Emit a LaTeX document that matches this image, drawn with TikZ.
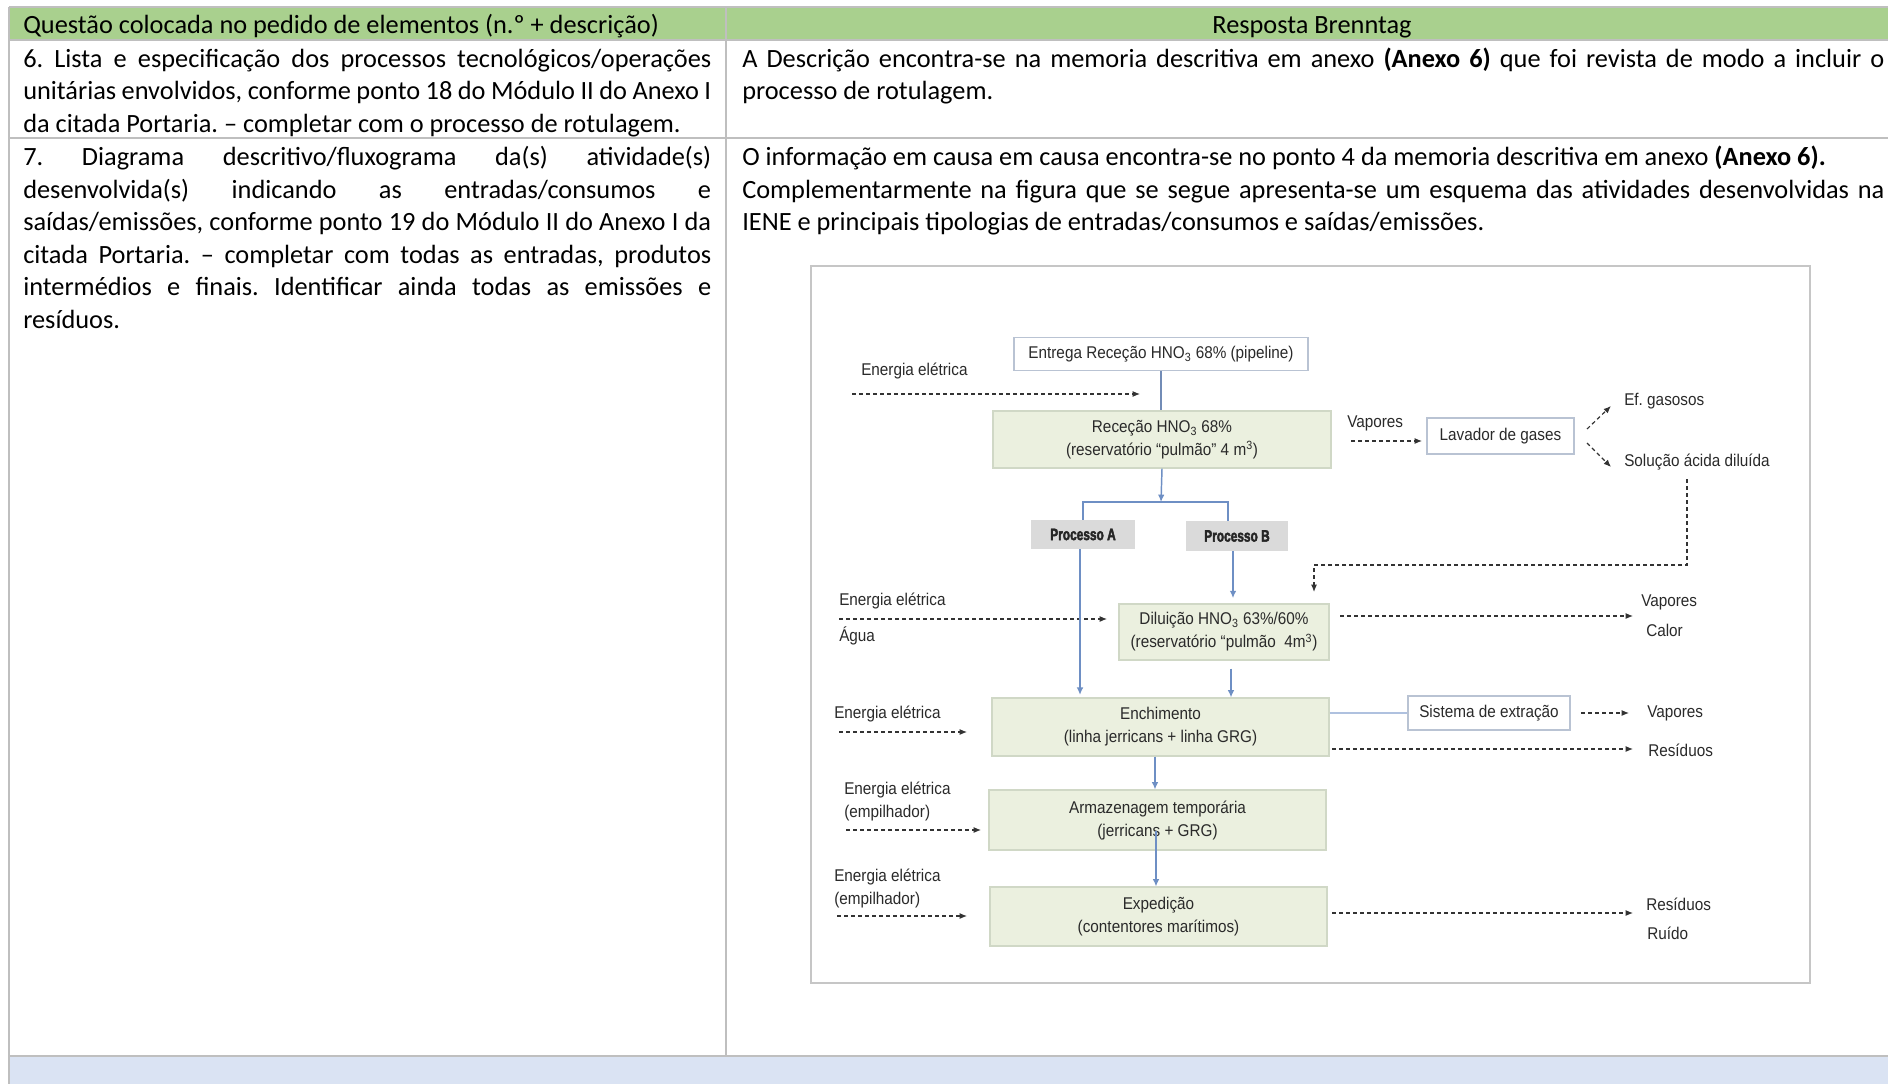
\documentclass[tikz,border=0pt]{standalone}
\usepackage{fontspec}
\setmainfont{Carlito}
\newfontfamily\diagfont[FakeStretch=0.9]{Liberation Sans}
\newfontfamily\procfont[FakeStretch=0.72,FakeBold=2.5]{Liberation Sans}
\usetikzlibrary{arrows.meta}
\definecolor{hdrgreen}{HTML}{A9D08E}
\definecolor{gridgray}{HTML}{BFBFBF}
\definecolor{bandblue}{HTML}{DAE3F3}
\definecolor{boxgreen}{HTML}{EBF0DF}
\definecolor{boxedge}{HTML}{D0D8C6}
\definecolor{wboxedge}{HTML}{B9C3D3}
\definecolor{procgray}{HTML}{DADADA}
\definecolor{flowblue}{HTML}{6E8FC4}
\definecolor{framegray}{HTML}{C6C6C6}
\definecolor{diagtext}{HTML}{2A2A2A}
\newcommand\tabsize{\fontsize{19.75pt}{24.4pt}\selectfont}
\newcommand\jl[1]{\makebox[516pt][s]{#1}}
\newcommand\jr[1]{\makebox[856.5pt][s]{#1}}
\frenchspacing
\tikzset{
  tline/.style={anchor=base west, inner sep=0pt, font=\tabsize},
  lbl/.style={anchor=west, inner sep=0pt, align=left, text=diagtext,
    font=\diagfont\fontsize{12.75pt}{17.25pt}\selectfont},
  gbox/.style={draw=boxedge, fill=boxgreen, line width=0.8pt, align=center, inner sep=0pt,
    text=diagtext, font=\diagfont\fontsize{12.75pt}{17.25pt}\selectfont},
  wbox/.style={draw=wboxedge, fill=white, line width=0.9pt, align=center, inner sep=0pt,
    text=diagtext, font=\diagfont\fontsize{12.75pt}{17.25pt}\selectfont},
  pbox/.style={draw=none, fill=procgray, inner sep=0pt, text=black!85,
    font=\procfont\bfseries\fontsize{12.4pt}{14pt}\selectfont},
  dashar/.style={draw=black!80, line width=0.85pt, dash pattern=on 3pt off 2.25pt,
    -{Latex[length=5.5pt,width=4.5pt]}},
  flowar/.style={draw=flowblue, line width=1.1pt, -{Latex[length=5.5pt,width=5pt]}},
  flowline/.style={draw=flowblue, line width=1.1pt},
}
\begin{document}
\begin{tikzpicture}[x=0.75pt,y=-0.75pt]
\useasboundingbox (0,0) rectangle (1888,1084);
% ---------- table ----------
\fill[white] (0,0) rectangle (1888,1084);
\fill[hdrgreen] (9,7) rectangle (1888,40);
\fill[bandblue] (9,1056) rectangle (1888,1084);
\draw[gridgray, line width=1.6pt] (9,7) -- (1888,7);
\draw[gridgray, line width=2pt] (9,40) -- (1888,40);
\draw[gridgray, line width=2pt] (9,138) -- (1888,138);
\draw[gridgray, line width=2.2pt] (9,1056) -- (1888,1056);
\draw[gridgray, line width=1.3pt] (9,7) -- (9,1084);
\draw[gridgray, line width=1.3pt] (726,7) -- (726,1056);

\node[tline] (h1) at (23,34) {Questão colocada no pedido de elementos (n.º + descrição)};
\node[anchor=base, inner sep=0pt, font=\tabsize] (h2) at (1312,34) {Resposta Brenntag};

\node[tline] (l1a) at (23,67.5) {\jl{6. Lista e especificação dos processos tecnológicos/operações}};
\node[tline] (l1b) at (23,100) {\jl{unitárias envolvidos, conforme ponto 18 do Módulo II do Anexo I}};
\node[tline] (l1c) at (23,132.5) {da citada Portaria. – completar com o processo de rotulagem.};

\node[tline] (r1a) at (742,67.5) {\jr{A Descrição encontra-se na memoria descritiva em anexo \textbf{(Anexo 6)} que foi revista de modo a incluir o}};
\node[tline] (r1b) at (742,100) {processo de rotulagem.};

\node[tline] (l2a) at (23,166) {\jl{7. Diagrama descritivo/fluxograma da(s) atividade(s)}};
\node[tline] (l2b) at (23,198.5) {\jl{desenvolvida(s) indicando as entradas/consumos e}};
\node[tline] (l2c) at (23,231) {\jl{saídas/emissões, conforme ponto 19 do Módulo II do Anexo I da}};
\node[tline] (l2d) at (23,263.5) {\jl{citada Portaria. – completar com todas as entradas, produtos}};
\node[tline] (l2e) at (23,296) {\jl{intermédios e finais. Identificar ainda todas as emissões e}};
\node[tline] (l2f) at (23,328.5) {resíduos.};

\node[tline] (r2a) at (742,166) {O informação em causa em causa encontra-se no ponto 4 da memoria descritiva em anexo \textbf{(Anexo 6).}};
\node[tline] (r2b) at (742,198.5) {\jr{Complementarmente na figura que se segue apresenta-se um esquema das atividades desenvolvidas na}};
\node[tline] (r2c) at (742,231) {IENE e principais tipologias de entradas/consumos e saídas/emissões.};

% ---------- figure ----------
\draw[framegray, line width=1.1pt, fill=white] (811,266) rectangle (1810,983);

\node[wbox, minimum width=220.5pt, minimum height=24.75pt] (entrega) at (1161,354)
  {Entrega Receção HNO\textsubscript{3} 68\% (pipeline)};
\node[gbox, minimum width=253.5pt, minimum height=42.75pt] (recep) at (1162,439.5)
  {Receção HNO\textsubscript{3} 68\%\\(reservatório “pulmão” 4 m\textsuperscript{3})};
\node[wbox, minimum width=110.25pt, minimum height=27pt] (lav) at (1500.5,436) {Lavador de gases};
\node[pbox, minimum width=78pt, minimum height=21.75pt] (procA) at (1083,534.5) {Processo A};
\node[pbox, minimum width=76.5pt, minimum height=22.5pt] (procB) at (1237,536) {Processo B};
\node[gbox, minimum width=157.5pt, minimum height=42pt] (dil) at (1224,632)
  {Diluição HNO\textsubscript{3} 63\%/60\%\\(reservatório “pulmão\ \ 4m\textsuperscript{3})};
\node[gbox, minimum width=252.75pt, minimum height=43.5pt] (ench) at (1160.5,727)
  {Enchimento\\(linha jerricans + linha GRG)};
\node[wbox, minimum width=121.5pt, minimum height=25.5pt] (sis) at (1489,713) {Sistema de extração};
\node[gbox, minimum width=252.75pt, minimum height=45pt] (arm) at (1157.5,820)
  {Armazenagem temporária\\(jerricans + GRG)};
\node[gbox, minimum width=252.75pt, minimum height=44.25pt] (exped) at (1158.5,916.5)
  {Expedição\\(contentores marítimos)};

% labels
\node[lbl] (e1) at (861,371) {Energia elétrica};
\node[lbl] (vap1) at (1347,423) {Vapores};
\node[lbl] (ef) at (1624,401) {Ef. gasosos};
\node[lbl] (sol) at (1624,462) {Solução ácida diluída};
\node[lbl] (e2) at (839,601) {Energia elétrica};
\node[lbl] (agua) at (839,636) {Água};
\node[lbl] (vap2) at (1641,602) {Vapores};
\node[lbl] (calor) at (1646,630) {Calor};
\node[lbl] (e3) at (834,714) {Energia elétrica};
\node[lbl] (vap3) at (1647,713) {Vapores};
\node[lbl] (res1) at (1648,750) {Resíduos};
\node[lbl] (e4) at (844,801.5) {Energia elétrica\\(empilhador)};
\node[lbl] (e5) at (834,888) {Energia elétrica\\(empilhador)};
\node[lbl] (res2) at (1646,904) {Resíduos};
\node[lbl] (ruido) at (1647,933) {Ruído};

% coordinates for free ends
\coordinate (d1s) at (852,394);   \coordinate (d1e) at (1140,394);
\coordinate (d2s) at (1351,441);  \coordinate (d2e) at (1422,441);
\coordinate (d3s) at (1587,429);  \coordinate (d3e) at (1611,406);
\coordinate (d4s) at (1587,443);  \coordinate (d4e) at (1611,467);
\coordinate (d5s) at (1687,479);  \coordinate (d5m) at (1314,565);  \coordinate (d5e) at (1314,592);
\coordinate (d6s) at (839,619);   \coordinate (d6e) at (1107,619);
\coordinate (d7s) at (1340,616);  \coordinate (d7e) at (1633,616);
\coordinate (d8s) at (839,732);   \coordinate (d8e) at (967,732);
\coordinate (d9s) at (1581,713);  \coordinate (d9e) at (1629,713);
\coordinate (d10s) at (1332,749); \coordinate (d10e) at (1633,749);
\coordinate (d11s) at (846,830);  \coordinate (d11e) at (981,830);
\coordinate (d12s) at (837,916);  \coordinate (d12e) at (967,916);
\coordinate (d13s) at (1332,913); \coordinate (d13e) at (1633,913);
\coordinate (jn) at (1161,502);
\coordinate (jB) at (1228,521);
\coordinate (xA) at (1080,0);
\coordinate (xB) at (1233,0);
\coordinate (xD) at (1231,0);
\coordinate (xE) at (1155,0);
\coordinate (xR) at (1156,0);
\coordinate (armin) at (1156,831);

% dashed flows
\draw[dashar] (d1s) -- (d1e);
\draw[dashar] (d2s) -- (d2e);
\draw[dashar] (d3s) -- (d3e);
\draw[dashar] (d4s) -- (d4e);
\draw[dashar] (d5s) |- (d5m) -- (d5e);
\draw[dashar] (d6s) -- (d6e);
\draw[dashar] (d7s) -- (d7e);
\draw[dashar] (d8s) -- (d8e);
\draw[dashar] (d9s) -- (d9e);
\draw[dashar] (d10s) -- (d10e);
\draw[dashar] (d11s) -- (d11e);
\draw[dashar] (d12s) -- (d12e);
\draw[dashar] (d13s) -- (d13e);

% solid flow
\draw[draw=flowblue!80!gray, line width=0.9pt] (entrega.south) -- (entrega.south |- recep.north);
\draw[flowar] (recep.south) -- (jn);
\draw[flowline] (procA.north) |- (jn) -| (jB);
\draw[flowar, line width=0.9pt] (xA |- procA.south) -- ([yshift=2pt]xA |- ench.north);
\draw[flowar] (xB |- procB.south) -- ([yshift=4pt]xB |- dil.north);
\draw[flowar] ([yshift=-6pt]xD |- dil.south) -- (xD |- ench.north);
\draw[flowar] (xE |- ench.south) -- (xE |- arm.north);
\draw[flowar] (armin) -- (xR |- exped.north);
\draw[draw=flowblue!55!white, line width=1.4pt] (sis.west -| ench.east) -- (sis.west);
\end{tikzpicture}
\end{document}
